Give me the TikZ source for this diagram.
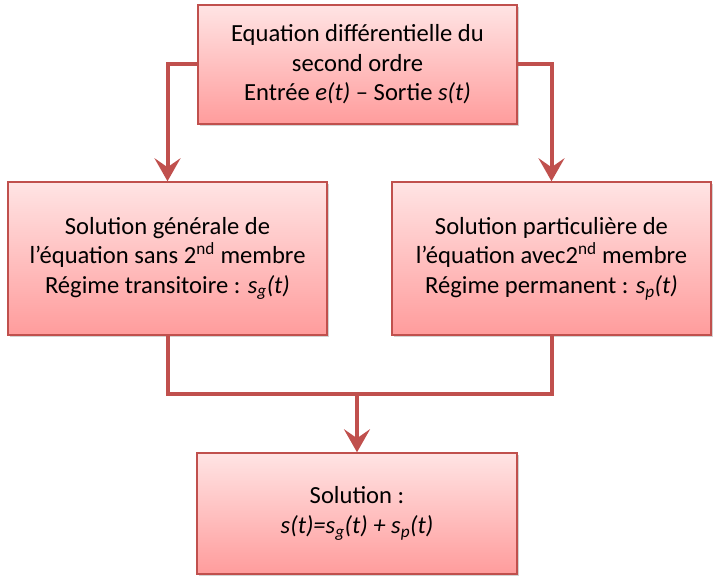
\documentclass[tikz,border=0pt]{standalone}
\usepackage{fontspec}
\setmainfont{Carlito}
\usepackage{tikz}
\usetikzlibrary{arrows.meta, shadows}

\definecolor{rouge}{RGB}{192,80,77}
\definecolor{rosehaut}{RGB}{255,228,228}
\definecolor{rosebas}{RGB}{255,156,156}

\tikzset{
    bloc/.style={draw=rouge, line width=1.5pt, top color=rosehaut, bottom color=rosebas,
        align=center, inner sep=0pt, minimum width=319pt,
        font=\fontsize{24.6}{29.5}\selectfont,
        drop shadow={shadow xshift=1.5pt, shadow yshift=-2pt, opacity=0.35}},
    liaison/.style={draw=rouge, line width=4pt},
    fleche/.style={liaison, -{Stealth[length=23pt, width=26pt, inset=9pt]}}
}

\begin{document}
\begin{tikzpicture}[x=1pt, y=-1pt]
        \useasboundingbox (0,0) rectangle (719,585);

        % Blocs
        \node[bloc, minimum height=119pt] (eqdiff) at (357.5,64.5)
            {Equation différentielle du\\second ordre\\Entrée \textit{e(t)} -- Sortie \textit{s(t)}};
        \node[bloc, minimum height=153pt] (solgen) at (167.5,258.5)
            {Solution générale de\\l’équation sans 2\textsuperscript{nd} membre\\Régime transitoire : \textit{s\textsubscript{g}(t)}};
        \node[bloc, minimum height=153pt] (solpart) at (551.5,258.5)
            {Solution particulière de\\l’équation avec2\textsuperscript{nd} membre\\Régime permanent : \textit{s\textsubscript{p}(t)}};
        \node[bloc, minimum width=320pt, minimum height=121pt] (sol) at (357,513.5)
            {Solution :\\\textit{s(t)=s\textsubscript{g}(t) + s\textsubscript{p}(t)}};

        % Liaisons
        \draw[fleche] (eqdiff.west) -| (solgen.north);
        \draw[fleche] (eqdiff.east) -| (solpart.north);
        \coordinate (jonction) at (357,394);
        \draw[liaison, line join=miter] (solgen.south) |- (jonction) -| (solpart.south);
        \draw[fleche] (jonction) -- (sol.north);
    \end{tikzpicture}
\end{document}
